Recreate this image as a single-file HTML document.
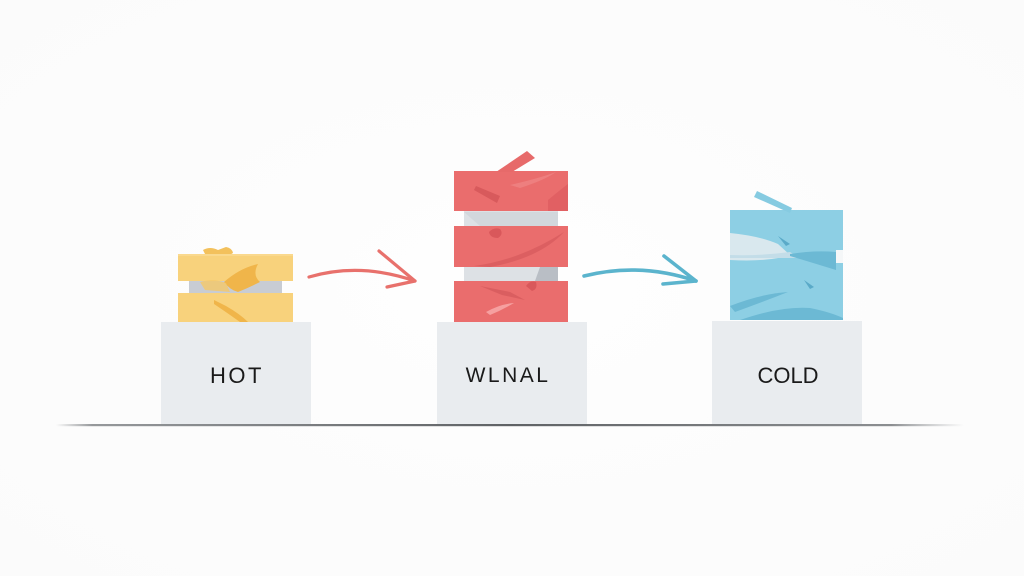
<!DOCTYPE html>
<html>
<head>
<meta charset="utf-8">
<style>
html,body{margin:0;padding:0;background:#fcfcfc;}
svg{display:block;}
text{font-family:"Liberation Sans",sans-serif;fill:#1a1a1a;}
</style>
</head>
<body>
<svg width="1024" height="576" viewBox="0 0 1024 576" xmlns="http://www.w3.org/2000/svg">
<defs>
<radialGradient id="bg" cx="50%" cy="50%" r="70%">
<stop offset="0" stop-color="#fefefe"/>
<stop offset="1" stop-color="#fbfbfb"/>
</radialGradient>
<linearGradient id="base" x1="0" x2="1" y1="0" y2="0">
<stop offset="0" stop-color="#8a8d90" stop-opacity="0"/>
<stop offset="0.04" stop-color="#8a8d90" stop-opacity="0.9"/>
<stop offset="0.5" stop-color="#5f6265"/>
<stop offset="0.92" stop-color="#7f8285" stop-opacity="0.9"/>
<stop offset="1" stop-color="#9a9da0" stop-opacity="0"/>
</linearGradient>
</defs>
<rect width="1024" height="576" fill="url(#bg)"/>

<!-- pedestals -->
<rect x="161" y="322" width="150" height="102" fill="#e9ecef"/>
<rect x="437" y="322" width="150" height="102" fill="#e9ecef"/>
<rect x="712" y="321" width="150" height="103" fill="#e9ecef"/>

<!-- baseline -->
<rect x="56" y="424" width="908" height="2.2" fill="url(#base)"/>

<!-- labels -->
<text x="237" y="383" font-size="22" text-anchor="middle" letter-spacing="2.5">HOT</text>
<text x="508" y="382" font-size="21" text-anchor="middle" letter-spacing="2.5">WLNAL</text>
<text x="788" y="383" font-size="22" text-anchor="middle">COLD</text>

<!-- HOT yellow stack -->
<rect x="189" y="279" width="93" height="16" fill="#c8ccd3"/>
<rect x="178" y="254" width="115" height="27" fill="#f8d27c"/>
<rect x="178" y="293" width="115" height="29" fill="#f8d27c"/>
<path d="M203,250 Q210,246 218,250 L226,247 Q232,248 233,253 L228,256 L206,256 Z" fill="#f3c15c"/>
<path d="M224,282 Q240,268 258,264 Q252,275 260,282 Q248,288 238,292 Q230,290 224,282 Z" fill="#f0b54a"/>
<path d="M200,282 Q214,278 226,283 L230,292 L205,290 Z" fill="#f5c868" opacity="0.8"/>
<path d="M214,300 L226,306 Q240,314 248,322 L240,322 Q226,312 214,304 Z" fill="#f0b54a"/>
<rect x="178" y="254" width="115" height="2" fill="#fad98e"/>

<!-- red arrow -->
<g fill="none" stroke="#e8716c" stroke-width="3.2" stroke-linecap="round" stroke-linejoin="round">
<path d="M309,277 Q360,262 415,281"/>
<path d="M379,251 L415,281 L387,287"/>
</g>

<!-- WLNAL red stack -->
<rect x="464" y="209" width="94" height="19" fill="#dde1e5"/>
<rect x="464" y="265" width="94" height="18" fill="#dde1e5"/>
<path d="M464,212 L558,212 L558,226 L480,226 Z" fill="#c8cdd3" opacity="0.5"/>
<path d="M540,267 L558,267 L558,281 L535,281 Z" fill="#b9bec5"/>
<rect x="454" y="171" width="114" height="40" fill="#ea6d6d"/>
<rect x="454" y="226" width="114" height="41" fill="#ea6d6d"/>
<rect x="454" y="281" width="114" height="41" fill="#ea6d6d"/>
<path d="M496,172 L527,151 L535,158 L512,172 Z" fill="#e76a6a"/>
<path d="M476,186 L500,196 L497,203 L474,190 Z" fill="#d85a5c"/>
<path d="M510,185 Q540,178 556,172 Q545,180 520,188 Z" fill="#f08787" opacity="0.7"/>
<path d="M548,200 Q560,190 568,184 L568,211 L548,211 Z" fill="#de5d60" opacity="0.8"/>
<path d="M489,232 Q494,227 500,229 Q504,234 498,238 Q490,238 489,232 Z" fill="#d9585b"/>
<path d="M474,266 Q520,260 564,232 Q540,258 490,267 Z" fill="#d65a5d" opacity="0.7"/>
<path d="M480,286 L510,292 L525,300 L502,295 Z" fill="#d65a5d" opacity="0.8"/>
<path d="M526,286 Q530,280 536,282 Q538,289 532,291 Z" fill="#d9585b"/>
<path d="M486,312 Q500,304 514,303 Q502,310 490,315 Z" fill="#f6a0a0"/>

<!-- blue arrow -->
<g fill="none" stroke="#5bb4cd" stroke-width="3.6" stroke-linecap="round" stroke-linejoin="round">
<path d="M584,276 Q640,262 696,281"/>
<path d="M664,256 L696,281 L663,284"/>
</g>

<!-- COLD blue stack -->
<rect x="730" y="210" width="113" height="110" fill="#8dcfe4"/>
<path d="M730,233 Q760,236 778,244 L790,255 Q770,262 730,260 Z" fill="#d9e8ee"/>
<path d="M730,255 Q760,256 790,252 L800,258 L730,258 Z" fill="#c3dde8"/>
<path d="M836,250 L843,250 L843,263 L836,263 Z" fill="#f5f7f8"/>
<path d="M790,254 Q815,250 836,252 L836,270 Q810,262 790,256 Z" fill="#6cb9d4"/>
<path d="M754,197 L757,191 L792,208 L790,213 Z" fill="#86cbe1"/>
<path d="M778,236 L790,244 L786,246 Z" fill="#5aaac8"/>
<path d="M804,280 L814,287 L810,289 Z" fill="#5aaac8"/>
<path d="M730,306 Q760,294 788,292 Q760,303 735,312 Z" fill="#6cb9d4"/>
<path d="M740,320 Q780,306 810,308 Q830,312 843,318 L843,320 Z" fill="#6cb9d4"/>
</svg>
</body>
</html>
